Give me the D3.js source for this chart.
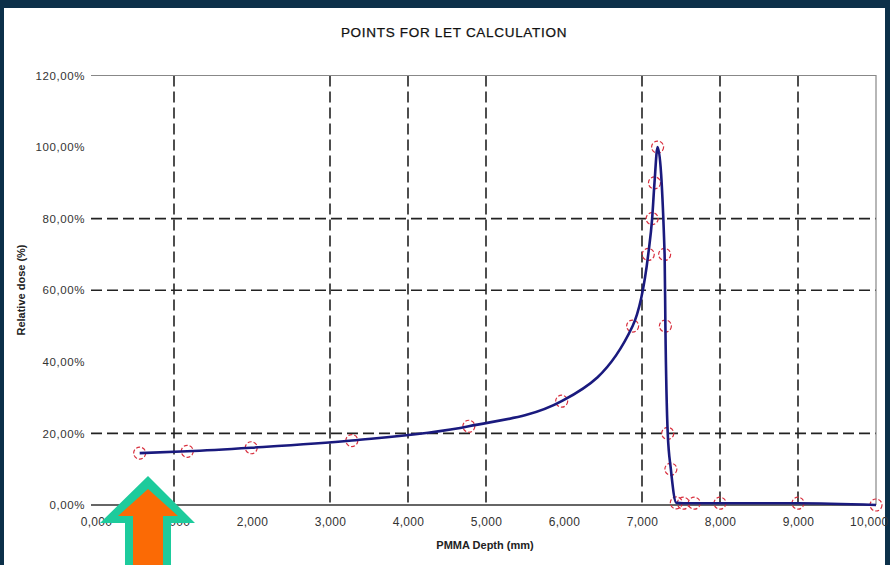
<!DOCTYPE html>
<html><head><meta charset="utf-8">
<script src="https://cdn.jsdelivr.net/npm/d3@7"></script>
<style>
html,body{margin:0;padding:0;background:#0c3049;}
svg{display:block;}
text{font-family:"Liberation Sans",Arial,sans-serif;}
</style></head>
<body><svg id="c" width="890" height="565"></svg>
<script>
// ---- data ----
const depth = [0.56, 1.17, 1.99, 3.28, 4.78, 5.97, 6.88, 7.08, 7.13, 7.16, 7.20, 7.29, 7.30, 7.33, 7.37, 7.44, 7.53, 7.67, 8.00, 9.00, 10.00];
const dose  = [14.5, 15.0, 16.0, 18.0, 22.0, 29.0, 50.0, 70.0, 80.0, 90.0, 100.0, 70.0, 50.0, 20.0, 10.0, 0.6, 0.5, 0.5, 0.5, 0.5, 0.0];
const xTicks = [0,1,2,3,4,5,6,7,8,9,10];
const xTickLabels = ["0,000","1,000","2,000","3,000","4,000","5,000","6,000","7,000","8,000","9,000","10,000"];
const yTicks = [0,20,40,60,80,100,120];
const yTickLabels = ["0,00%","20,00%","40,00%","60,00%","80,00%","100,00%","120,00%"];
const xGridShown = [1,3,4,5,7,8,9];
const yGridShown = [20,60,80];
const title = "POINTS FOR LET CALCULATION";
const xTitle = "PMMA Depth (mm)";
const yTitle = "Relative dose (%)";

const svg = d3.select("#c");
// white panel
svg.append("rect").attr("x",4).attr("y",8).attr("width",881).attr("height",557).attr("fill","#ffffff");

const L=96, R=876, T=75.5, B=505;
const x = d3.scaleLinear().domain([0,10]).range([L,R]);
const y = d3.scaleLinear().domain([0,120]).range([B,T]);

// grid
const g = svg.append("g");
g.selectAll(".vg").data(xGridShown).enter().append("line")
  .attr("x1",d=>x(d)).attr("x2",d=>x(d)).attr("y1",T).attr("y2",B)
  .attr("stroke","#222").attr("stroke-width",1.6).attr("stroke-dasharray","11,5");
g.selectAll(".hg").data(yGridShown).enter().append("line")
  .attr("x1",L-5).attr("x2",R).attr("y1",d=>y(d)).attr("y2",d=>y(d))
  .attr("stroke","#222").attr("stroke-width",1.6).attr("stroke-dasharray","11,5");
// frame top/right
g.append("path").attr("d",`M${L-5},${T}H${R}V${B}`).attr("fill","none").attr("stroke","#888").attr("stroke-width",1.2);
// x axis line
g.append("line").attr("x1",L-5).attr("x2",R).attr("y1",B).attr("y2",B).attr("stroke","#333").attr("stroke-width",1.3);

// axis labels
const xAxis = d3.axisBottom(x).tickValues(xTicks).tickSize(0).tickPadding(12)
  .tickFormat((d,i)=>xTickLabels[i]);
const xa = svg.append("g").attr("transform",`translate(0,${B})`).call(xAxis);
xa.select(".domain").remove();
xa.selectAll("text").attr("font-size",12).attr("fill","#333").attr("font-family","Liberation Sans, Arial").attr("letter-spacing","0.3");
// keep the last label inside the frame
xa.selectAll(".tick").filter(d=>d===10).select("text").attr("text-anchor","end").attr("dx",12);

const yAxis = d3.axisLeft(y).tickValues(yTicks).tickSize(0).tickPadding(11)
  .tickFormat((d,i)=>yTickLabels[i]);
const ya = svg.append("g").attr("transform",`translate(${L},0)`).call(yAxis);
ya.select(".domain").remove();
ya.selectAll("text").attr("font-size",11.5).attr("fill","#333").attr("font-family","Liberation Sans, Arial").attr("letter-spacing","0.6");

// titles
svg.append("text").attr("x",454).attr("y",37).attr("text-anchor","middle")
  .attr("font-size",13.5).attr("fill","#111").attr("letter-spacing","0.7").attr("stroke","#111").attr("stroke-width",0.25).text(title);
svg.append("text").attr("x",485).attr("y",549).attr("text-anchor","middle")
  .attr("font-size",11).attr("font-weight","bold").attr("fill","#222").text(xTitle);
svg.append("text").attr("transform","translate(25,290) rotate(-90)").attr("text-anchor","middle")
  .attr("font-size",11).attr("font-weight","bold").attr("fill","#222").text(yTitle);

// data
const pts = depth.map((d,i)=>[d,dose[i]]);
svg.append("g").selectAll("circle").data(pts).enter().append("circle")
  .attr("cx",d=>x(d[0])).attr("cy",d=>y(d[1])).attr("r",6)
  .attr("fill","none").attr("stroke","#d8303f").attr("stroke-width",1.2).attr("stroke-dasharray","4,2");
const line = d3.line().x(d=>x(d[0])).y(d=>y(d[1])).curve(d3.curveMonotoneX);
svg.append("path").datum(pts).attr("d",line).attr("fill","none")
  .attr("stroke","#1a1a7e").attr("stroke-width",2.6).attr("stroke-linejoin","round");

// arrow annotation
const outer = [[148,476],[100,523],[125,523],[125,566],[171,566],[171,523],[195,523]];
const inner = [[148,489],[118,516],[133,516],[133,566],[163,566],[163,516],[178,516]];
svg.append("polygon").attr("points",outer.join(" ")).attr("fill","#1dcb9c");
svg.append("polygon").attr("points",inner.join(" ")).attr("fill","#fb6a05");
</script></body></html>
